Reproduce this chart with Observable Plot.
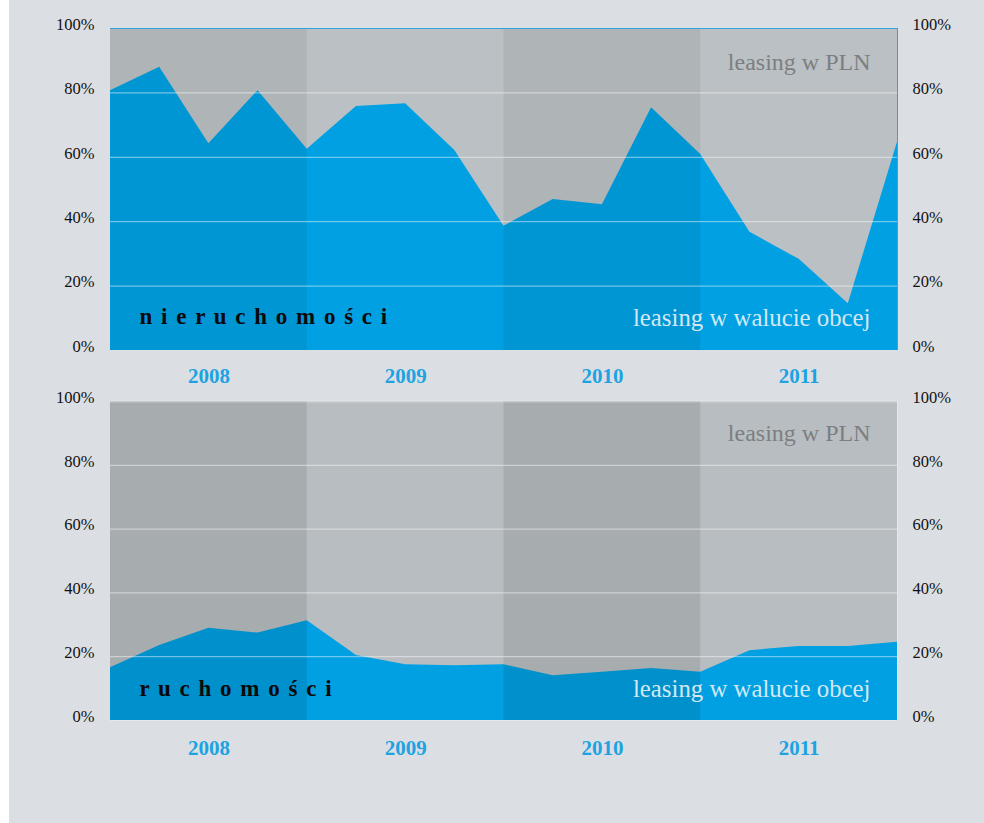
<!DOCTYPE html>
<html>
<head>
<meta charset="utf-8">
<script src="https://cdn.jsdelivr.net/npm/d3@7"></script>
<script src="https://cdn.jsdelivr.net/npm/@observablehq/plot@0.6"></script>
<style>
  html, body { margin: 0; padding: 0; background: #ffffff; }
  #panel { position: absolute; left: 9px; top: 0; width: 975px; height: 823px; background: #dbdfe3; overflow: hidden; }
  .chart { position: absolute; left: 0; }
</style>
</head>
<body>
<div id="panel">
  <div id="top" class="chart" style="top:0px"></div>
  <div id="bottom" class="chart" style="top:372px"></div>
</div>
<script>
// ---- data ----
const years = ["2008", "2009", "2010", "2011"];
const yTicks = [0, 20, 40, 60, 80, 100];
// share (%) of foreign-currency leasing, quarter boundaries 2008Q1 .. end of 2011
const nieruchomosci = [80.7, 88.0, 64.2, 80.7, 62.5, 75.8, 76.6, 62.1, 38.6, 46.9, 45.3, 75.4, 60.9, 36.7, 28.3, 14.5, 64.7];
const ruchomosci    = [16.5, 23.5, 28.9, 27.4, 31.3, 20.4, 17.5, 17.2, 17.5, 14.0, 15.1, 16.3, 15.1, 21.9, 23.2, 23.2, 24.5];
const titleTop = "n i e r u c h o m o ś c i";
const titleBottom = "r u c h o m o ś c i";
const labelPLN = "leasing w PLN";
const labelFX = "leasing w walucie obcej";

const font = "'Liberation Serif', 'DejaVu Serif', serif";
const xMax = (years.length) * 4;

function makeChart(values, title, o) {
  const data = values.map((v, i) => ({q: i, v}));
  const bands = years.map((y, i) => ({x1: i * 4, x2: i * 4 + 4, year: y, dark: i % 2 === 0}));
  const frame = [{x1: 0, x2: xMax}];
  return Plot.plot({
    width: 975,
    height: 390,
    marginLeft: 101,
    marginRight: 87,
    marginTop: o.mt,
    marginBottom: 390 - o.mt - o.ph,
    x: {domain: [0, xMax]},
    y: {domain: [0, 100]},
    style: {background: "transparent", fontFamily: font, fontSize: "16px", color: "#111", overflow: "visible"},
    marks: [
      Plot.rect(frame, {x1: "x1", x2: "x2", y1: () => 0, y2: () => 100, fill: o.grey}),
      Plot.areaY(data, {x: "q", y: "v", fill: o.blue}),
      Plot.rect(bands.filter(d => d.dark), {x1: "x1", x2: "x2", y1: () => 0, y2: () => 100, fill: "#000", fillOpacity: o.shade}),
      Plot.ruleY(yTicks.filter(t => t > 0 && t < 100), {stroke: "#ffffff", strokeOpacity: 0.55, strokeWidth: 1}),
      ...o.borders,
      Plot.axisY(yTicks, {anchor: "left", tickSize: 0, tickPadding: 16, dy: -4, tickFormat: d => d + "%", label: null, fill: "#111", fontSize: 16.5}),
      Plot.axisY(yTicks, {anchor: "right", tickSize: 0, tickPadding: 15, dy: -4, tickFormat: d => d + "%", label: null, fill: "#111", fontSize: 16.5}),
      Plot.axisX(bands.map(b => (b.x1 + b.x2) / 2), {tickSize: 0, tickPadding: o.yearPad, tickFormat: d => years[(d - 2) / 4], label: null, fill: "#1ea3e2", fontWeight: "bold", fontSize: 21}),
      Plot.text([labelPLN], {x: () => xMax, y: () => o.plnY, dx: -27, textAnchor: "end", fill: "#7c7f82", fontSize: 24, fontFamily: font}),
      Plot.text([labelFX], {x: () => xMax, y: () => o.fxY, dx: -27, textAnchor: "end", fill: "#d3e8f4", fontSize: 24.8, fontFamily: font}),
      Plot.text([title], {x: () => 0, y: () => o.titleY, dx: 29, textAnchor: "start", fill: "#0a0a0a", fontWeight: "bold", fontSize: 23, fontFamily: font})
    ]
  });
}

const topChart = makeChart(nieruchomosci, titleTop, {
  mt: 28, ph: 322, grey: "#bac0c3", blue: "#00a0e2", shade: 0.06,
  yearPad: 18, plnY: 89.4, fxY: 10.2, titleY: 10.5,
  borders: [
    Plot.ruleY([100], {stroke: "#2ba6e1", strokeWidth: 1.2}),
    Plot.ruleX([xMax], {stroke: "#2ba6e1", strokeWidth: 1})
  ]
});
const bottomChart = makeChart(ruchomosci, titleBottom, {
  mt: 29, ph: 319, grey: "#b8bdc1", blue: "#00a0e2", shade: 0.09,
  yearPad: 20, plnY: 90.0, fxY: 10.0, titleY: 10.0,
  borders: [
    Plot.ruleY([100], {stroke: "#ffffff", strokeOpacity: 0.35, strokeWidth: 2}),
    Plot.ruleY([0], {stroke: "#ffffff", strokeOpacity: 0.3, strokeWidth: 1}),
    Plot.ruleX([xMax], {stroke: "#ffffff", strokeOpacity: 0.3, strokeWidth: 1})
  ]
});
document.getElementById("top").appendChild(topChart);
document.getElementById("bottom").appendChild(bottomChart);
d3.selectAll("svg text").filter(function() { return this.textContent === titleTop || this.textContent === titleBottom; })
  .attr("letter-spacing", "1.5px");
</script>
</body>
</html>
